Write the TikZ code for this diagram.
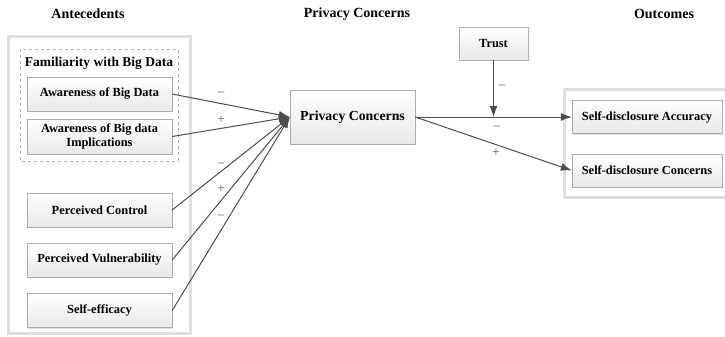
\documentclass[tikz,border=0pt]{standalone}
\usepackage{fontspec}
\setmainfont{Liberation Serif}
\usetikzlibrary{arrows.meta,shadows}
\begin{document}
\begin{tikzpicture}[x=1pt,y=-1pt,
  box/.style={draw=gray!65, top color=white, bottom color=gray!18, font=\bfseries\fontsize{12.4}{14}\selectfont,
    drop shadow={opacity=0.25, shadow xshift=1.2pt, shadow yshift=-1.2pt}, align=center, inner sep=2pt},
  head/.style={font=\bfseries\fontsize{14}{16}\selectfont},
  arr/.style={draw=black!70, line width=1pt, -{Latex[length=11pt,width=8pt]}},
  sign/.style={font=\fontsize{13}{14}\selectfont, text=black!65, inner sep=0pt},
  frame/.style={draw=gray!25, line width=3pt},
]
\useasboundingbox (0,0) rectangle (725,337);
% headers
\node[head] (h1) at (88,14) {Antecedents};
\node[head] (h2) at (357,14) {Privacy Concerns};
\node[head] (h3) at (664,14) {Outcomes};
% frames
\draw[frame] (8,37) rectangle (190,333);
\draw[draw=gray!60, dashed, line width=0.8pt] (20,49) rectangle (178,161);
\node[font=\bfseries\fontsize{13.5}{15}\selectfont] (fam) at (99,63) {Familiarity with Big Data};
\draw[frame] (564,89) rectangle (727,197);
% antecedent boxes
\node[box, minimum width=145pt, minimum height=34pt] (abd) at (99.5,94) {Awareness of Big Data};
\node[box, minimum width=145pt, minimum height=35pt] (abi) at (99.5,136.5) {Awareness of Big data\\Implications};
\node[box, minimum width=145pt, minimum height=34pt] (pco) at (99.5,210) {Perceived Control};
\node[box, minimum width=145pt, minimum height=34pt] (pvu) at (99.5,260) {Perceived Vulnerability};
\node[box, minimum width=145pt, minimum height=34pt] (sef) at (99.5,310.5) {Self-efficacy};
% central
\node[box, minimum width=125pt, minimum height=54pt, font=\bfseries\fontsize{13.8}{16}\selectfont] (pc) at (352.5,117) {Privacy Concerns};
\node[box, minimum width=69pt, minimum height=33pt] (tr) at (493.5,43.5) {Trust};
% outcomes
\node[box, minimum width=150pt, minimum height=33pt] (sda) at (647,117) {Self-disclosure Accuracy};
\node[box, minimum width=150pt, minimum height=33pt] (sdc) at (647,170.5) {Self-disclosure Concerns};
% arrows
\draw[arr] (abd.east) -- (pc.west);
\draw[arr] (abi.east) -- (pc.west);
\draw[arr] (pco.east) -- (pc.west);
\draw[arr] (pvu.east) -- (pc.west);
\draw[arr] (sef.east) -- (pc.west);
\draw[arr] (pc.east) -- (sda.west);
\draw[arr] (pc.east) -- (sdc.west);
\coordinate (tj) at (tr.south |- sda.west);
\draw[arr] (tr.south) -- (tj);
% signs
\node[sign] (s1) at (221,94) {–};
\node[sign] (s2) at (221,120) {+};
\node[sign] (s3) at (221,165) {–};
\node[sign] (s4) at (221,189) {+};
\node[sign] (s5) at (221,217) {–};
\node[sign] (s6) at (502,87) {–};
\node[sign] (s7) at (497,128) {–};
\node[sign] (s8) at (496,153) {+};
\end{tikzpicture}
\end{document}
